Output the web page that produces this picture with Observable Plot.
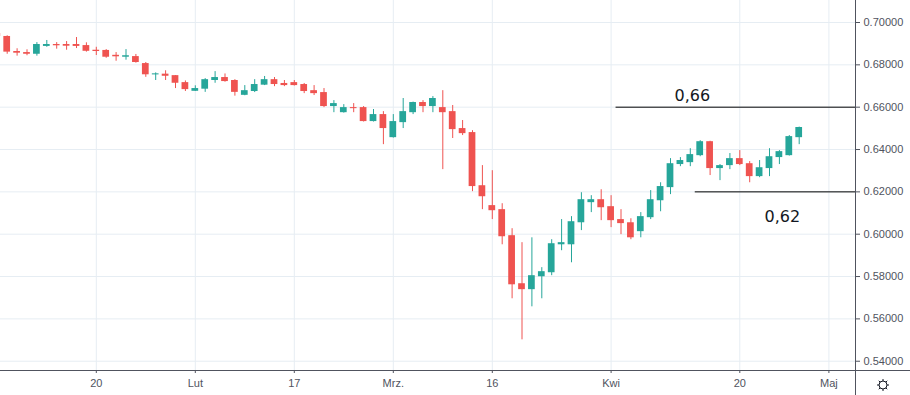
<!DOCTYPE html>
<html>
<head>
<meta charset="utf-8">
<script src="https://cdn.jsdelivr.net/npm/d3@7"></script>
<script src="https://cdn.jsdelivr.net/npm/@observablehq/plot@0.6"></script>
<style>
  html, body { margin: 0; padding: 0; background: #ffffff; }
  #chart { position: relative; width: 910px; height: 395px; overflow: hidden; }
  #chart svg { display: block; }
</style>
</head>
<body>
<div id="chart"></div>
<script>
// ---- Data (AUD/USD daily candles, trading days from 6 Jan to 28 Apr 2020) ----
const dates = [
  "2020-01-06","2020-01-07","2020-01-08","2020-01-09","2020-01-10",
  "2020-01-13","2020-01-14","2020-01-15","2020-01-16","2020-01-17",
  "2020-01-20","2020-01-21","2020-01-22","2020-01-23","2020-01-24",
  "2020-01-27","2020-01-28","2020-01-29","2020-01-30","2020-01-31",
  "2020-02-03","2020-02-04","2020-02-05","2020-02-06","2020-02-07",
  "2020-02-10","2020-02-11","2020-02-12","2020-02-13","2020-02-14",
  "2020-02-17","2020-02-18","2020-02-19","2020-02-20","2020-02-21",
  "2020-02-24","2020-02-25","2020-02-26","2020-02-27","2020-02-28",
  "2020-03-02","2020-03-03","2020-03-04","2020-03-05","2020-03-06",
  "2020-03-09","2020-03-10","2020-03-11","2020-03-12","2020-03-13",
  "2020-03-16","2020-03-17","2020-03-18","2020-03-19","2020-03-20",
  "2020-03-23","2020-03-24","2020-03-25","2020-03-26","2020-03-27",
  "2020-03-30","2020-03-31","2020-04-01","2020-04-02","2020-04-03",
  "2020-04-06","2020-04-07","2020-04-08","2020-04-09","2020-04-10",
  "2020-04-13","2020-04-14","2020-04-15","2020-04-16","2020-04-17",
  "2020-04-20","2020-04-21","2020-04-22","2020-04-23","2020-04-24",
  "2020-04-27","2020-04-28"
];
const open = [
  0.6948,0.6934,0.6863,0.6858,0.6850,
  0.6887,0.6896,0.6896,0.6896,0.6891,
  0.6869,0.6868,0.6845,0.6836,0.6839,
  0.6806,0.6753,0.6756,0.6749,0.6716,
  0.6675,0.6685,0.6726,0.6740,0.6726,
  0.6656,0.6674,0.6704,0.6730,0.6712,
  0.6716,0.6707,0.6678,0.6669,0.6603,
  0.6574,0.6598,0.6598,0.6532,0.6565,
  0.6456,0.6527,0.6574,0.6622,0.6603,
  0.6598,0.6579,0.6499,0.6480,0.6229,
  0.6135,0.6116,0.5993,0.5766,0.5738,
  0.5799,0.5818,0.5950,0.5950,0.6054,
  0.6149,0.6163,0.6130,0.6069,0.6054,
  0.6012,0.6078,0.6158,0.6220,0.6329,
  0.6338,0.6371,0.6437,0.6310,0.6324,
  0.6357,0.6333,0.6272,0.6310,0.6362,
  0.6371,0.6456
];
const high = [
  0.6960,0.6937,0.6876,0.6871,0.6905,
  0.6915,0.6905,0.6910,0.6929,0.6904,
  0.6883,0.6872,0.6858,0.6872,0.6849,
  0.6811,0.6762,0.6772,0.6749,0.6724,
  0.6701,0.6735,0.6768,0.6757,0.6730,
  0.6702,0.6730,0.6745,0.6740,0.6726,
  0.6726,0.6712,0.6702,0.6688,0.6631,
  0.6612,0.6617,0.6603,0.6589,0.6579,
  0.6565,0.6641,0.6624,0.6631,0.6650,
  0.6678,0.6608,0.6537,0.6489,0.6324,
  0.6300,0.6144,0.6026,0.5960,0.5983,
  0.5842,0.5974,0.6069,0.6083,0.6196,
  0.6182,0.6210,0.6182,0.6116,0.6073,
  0.6102,0.6206,0.6243,0.6357,0.6362,
  0.6404,0.6442,0.6439,0.6329,0.6381,
  0.6395,0.6343,0.6348,0.6404,0.6395,
  0.6466,0.6506
];
const low = [
  0.6925,0.6850,0.6841,0.6843,0.6841,
  0.6883,0.6874,0.6869,0.6877,0.6860,
  0.6844,0.6831,0.6817,0.6822,0.6808,
  0.6741,0.6726,0.6726,0.6688,0.6674,
  0.6674,0.6670,0.6713,0.6718,0.6652,
  0.6654,0.6669,0.6702,0.6697,0.6697,
  0.6700,0.6664,0.6655,0.6598,0.6574,
  0.6572,0.6574,0.6530,0.6530,0.6423,
  0.6454,0.6499,0.6565,0.6574,0.6574,
  0.6305,0.6452,0.6466,0.6201,0.6116,
  0.6069,0.5950,0.5695,0.5501,0.5657,
  0.5695,0.5804,0.5922,0.5865,0.6017,
  0.6102,0.6064,0.6031,0.5998,0.5974,
  0.5983,0.6069,0.6106,0.6187,0.6319,
  0.6319,0.6366,0.6277,0.6253,0.6305,
  0.6324,0.6243,0.6267,0.6272,0.6329,
  0.6369,0.6423
];
const close = [
  0.6934,0.6860,0.6855,0.6850,0.6896,
  0.6896,0.6890,0.6888,0.6887,0.6864,
  0.6863,0.6836,0.6838,0.6843,0.6811,
  0.6753,0.6757,0.6746,0.6713,0.6683,
  0.6688,0.6730,0.6740,0.6721,0.6670,
  0.6678,0.6707,0.6730,0.6707,0.6702,
  0.6702,0.6674,0.6664,0.6603,0.6617,
  0.6598,0.6593,0.6532,0.6565,0.6499,
  0.6532,0.6579,0.6622,0.6603,0.6641,
  0.6574,0.6494,0.6475,0.6225,0.6177,
  0.6111,0.5988,0.5761,0.5738,0.5804,
  0.5823,0.5955,0.5960,0.6059,0.6163,
  0.6163,0.6125,0.6064,0.6050,0.5983,
  0.6083,0.6163,0.6225,0.6333,0.6348,
  0.6376,0.6437,0.6310,0.6324,0.6357,
  0.6329,0.6272,0.6314,0.6366,0.6390,
  0.6461,0.6504
];
// first candle sits 10 trading days before 20 Jan (the "20" tick)
const firstOffset = -10;

// price scale ticks
const yTicks = [0.54, 0.56, 0.58, 0.60, 0.62, 0.64, 0.66, 0.68, 0.70];
// time scale ticks (trading-day index relative to 20 Jan) and their labels
const xTickIdx = [0, 10, 20, 30, 40, 52, 65, 74];
const xTickLabels = ["20", "Lut", "17", "Mrz.", "16", "Kwi", "20", "Maj"];

// horizontal levels drawn on the chart
const levelValues = [0.66, 0.62];
const levelStartIdx = [52.5, 60.5];
const levelLabels = ["0,66", "0,62"];
const levelLabelIdx = [60.2, 69.3];
const levelLabelY = [0.6652, 0.6083];

// ---- Build table ----
const UP = "#26a69a", DOWN = "#ef5350";
const candles = dates.map((d, i) => {
  const o = open[i], c = close[i];
  let top = Math.max(o, c), bot = Math.min(o, c);
  if (top - bot < 0.0005) { const m = (top + bot) / 2; top = m + 0.00025; bot = m - 0.00025; }
  return {date: d, idx: i + firstOffset, o, h: high[i], l: low[i], c, top, bot, color: c >= o ? UP : DOWN};
});
const levels = levelValues.map((v, i) => ({v, x1: levelStartIdx[i], label: levelLabels[i], lx: levelLabelIdx[i], ly: levelLabelY[i]}));

// scale geometry: 20 Jan at 95.8px, 9.9px per trading day, plot width 855px
const plotW = 855, plotH = 370, pxPerDay = 9.9, x0px = 95.8;
const xDomain = [-x0px / pxPerDay, (plotW - x0px) / pxPerDay];
const pxPerUnit = 2117;
const yDomain = [0.70 - (plotH - 22) / pxPerUnit, 0.70 + 22 / pxPerUnit];

const AXIS = "#50535e", GRID = "#e6edf3", TXT = "#50535e";
const labelMap = new Map(xTickIdx.map((d, i) => [d, xTickLabels[i]]));

const chart = Plot.plot({
  width: 910,
  height: 395,
  marginLeft: 0,
  marginRight: 55,
  marginTop: 0,
  marginBottom: 25,
  style: {fontFamily: "'Liberation Sans', Arial, sans-serif", background: "#ffffff"},
  x: {type: "linear", domain: xDomain, axis: null},
  y: {type: "linear", domain: yDomain, axis: null},
  marks: [
    Plot.gridY(yTicks, {stroke: GRID, strokeOpacity: 1}),
    Plot.gridX(xTickIdx, {stroke: GRID, strokeOpacity: 1}),
    Plot.ruleX(candles, {x: "idx", y1: "l", y2: "h", stroke: "color", strokeWidth: 1, clip: true}),
    Plot.rect(candles, {x1: d => d.idx - 0.34, x2: d => d.idx + 0.34, y1: "bot", y2: "top", fill: "color", clip: true}),
    Plot.ruleY(levels, {y: "v", x1: "x1", x2: () => xDomain[1], stroke: "#000000", strokeWidth: 1}),
    Plot.text(levels, {x: "lx", y: "ly", text: "label", fontSize: 16, fill: "#131722", fontFamily: "'DejaVu Sans', Verdana, sans-serif"}),
    Plot.axisY(yTicks, {anchor: "right", tickSize: 4, tickPadding: 4, tickFormat: d => d.toFixed(5), fontSize: 11, color: TXT}),
    Plot.axisX(xTickIdx, {anchor: "bottom", tickSize: 3, tickPadding: 6, tickFormat: d => labelMap.get(d), fontSize: 11, color: TXT}),
    Plot.ruleX([xDomain[1]], {stroke: AXIS, insetBottom: -25}),
    Plot.ruleY([yDomain[0]], {stroke: AXIS, insetRight: -55})
  ]
});
document.getElementById("chart").appendChild(chart);

// settings (sun/gear) icon in the bottom-right corner
const svg = d3.select(chart);
const g = svg.append("g").attr("transform", "translate(883,385)").attr("fill", "none").attr("stroke", "#131722").attr("stroke-width", 1);
g.append("circle").attr("r", 4);
d3.range(8).forEach(k => {
  const a = k * Math.PI / 4;
  g.append("line").attr("x1", 4 * Math.cos(a)).attr("y1", 4 * Math.sin(a)).attr("x2", 6 * Math.cos(a)).attr("y2", 6 * Math.sin(a));
});
</script>
</body>
</html>
